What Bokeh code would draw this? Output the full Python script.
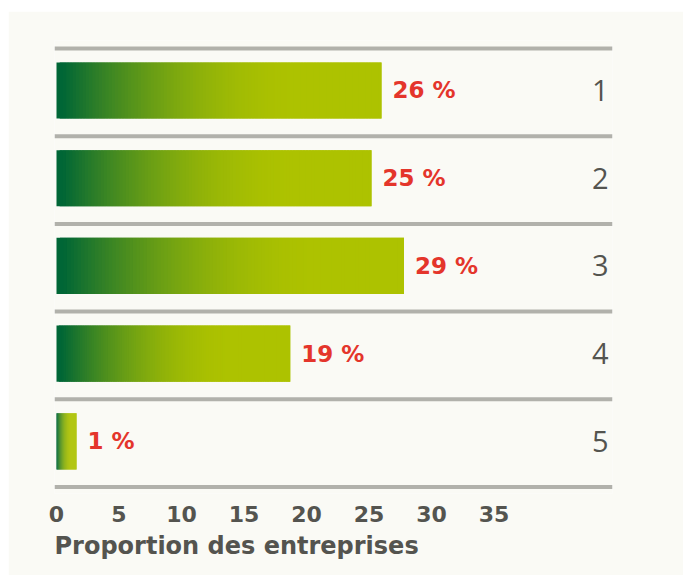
from bokeh.plotting import figure
from bokeh.models import ColumnDataSource, FixedTicker, Range1d, Span, Title
from bokeh.core.properties import value
from bokeh.embed import file_html
from bokeh.resources import INLINE

# ---- data ----
rows = [1, 2, 3, 4, 5]
row_labels = ["1", "2", "3", "4", "5"]
bar_values = [26.0, 25.2, 27.8, 18.7, 1.6]      # bar lengths as drawn
pct_labels = ["26 %", "25 %", "29 %", "19 %", "1 %"]
tick_values = [0, 5, 10, 15, 20, 25, 30, 35]
x_title = "Proportion des entreprises"

# ---- style ----
BG = "#fafaf5"
GREY_TXT = "#54544f"
RED = "#e4352b"
LINE = "#b1b1ab"
C0 = (0x00, 0x66, 0x36)
C1 = (0xad, 0xc2, 0x00)
N = 100
RAMP = 0.76
START = 0.02
BAR_H = 0.64
BOLD_FONT = "DejaVu Sans"
SEP_OFFSET = 0.021

def lerp(t):
    u = min(max((t - START) / (RAMP - START), 0.0), 1.0)
    f = 1 - (1 - u) ** 2
    r, g, b = (round(C0[k] + (C1[k] - C0[k]) * f) for k in range(3))
    return "#%02x%02x%02x" % (r, g, b)

lefts, rights, tops, bottoms, colors = [], [], [], [], []
for r, v in zip(rows, bar_values):
    for i in range(N):
        lefts.append(v * i / N)
        rights.append(min(v * (i + 2) / N, v))   # overlap next slice to hide seams
        tops.append(r - BAR_H / 2)
        bottoms.append(r + BAR_H / 2)
        colors.append(lerp((i + 0.5) / N))

seg = ColumnDataSource(dict(left=lefts, right=rights, top=tops, bottom=bottoms, color=colors))
lab = ColumnDataSource(dict(x=bar_values, y=rows, text=pct_labels))
num = ColumnDataSource(dict(x=[43.5] * len(rows), y=rows, text=row_labels))

p = figure(width=675, height=564, output_backend="svg", toolbar_location=None,
           x_range=Range1d(-0.16, 44.48), y_range=Range1d(5.595, 0.430),
           min_border_left=46, min_border_right=71, min_border_top=29, min_border_bottom=82)
p.margin = (11, 0, 0, 8)
p.background_fill_color = BG
p.border_fill_color = BG
p.outline_line_color = None
p.grid.visible = False
p.yaxis.visible = False

for k in range(len(rows) + 1):
    p.add_layout(Span(location=k + 0.5 + SEP_OFFSET, dimension="width",
                      line_color=LINE, line_width=4))

p.quad(left="left", right="right", top="top", bottom="bottom", source=seg,
       fill_color="color", line_color=None)

p.text(x="x", y="y", text="text", source=lab, x_offset=11,
       text_align="left", text_baseline="middle", text_color=RED,
       text_font=value(BOLD_FONT), text_font_style="bold", text_font_size="23px")

p.text(x="x", y="y", text="text", source=num,
       text_align="center", text_baseline="middle", text_color=GREY_TXT,
       text_font=value("Open Sans"), text_font_style="normal", text_font_size="29px")

ax = p.xaxis[0]
ax.ticker = FixedTicker(ticks=tick_values)
ax.axis_line_color = None
ax.major_tick_line_color = None
ax.minor_tick_line_color = None
ax.major_label_standoff = 6
ax.major_label_text_font = BOLD_FONT
ax.major_label_text_font_style = "bold"
ax.major_label_text_font_size = "22px"
ax.major_label_text_color = GREY_TXT

p.add_layout(Title(text=x_title, align="left", text_font=BOLD_FONT, text_font_style="bold",
                   text_font_size="24px", text_color=GREY_TXT), "below")

open("out.html", "w").write(file_html(p, INLINE))
